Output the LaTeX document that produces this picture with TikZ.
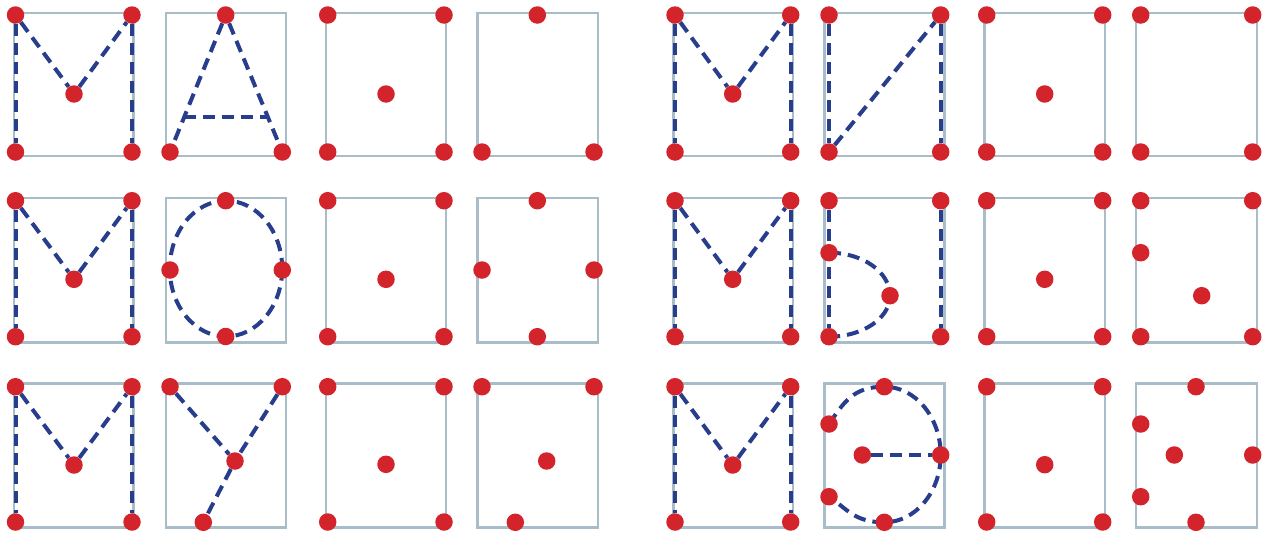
\documentclass[tikz,border=0pt]{standalone}
\usetikzlibrary{calc}
\pgfdeclarelayer{bg}
\pgfdeclarelayer{mid}
\pgfsetlayers{bg,mid,main}
\definecolor{boxc}{RGB}{168,189,199}
\definecolor{dotc}{RGB}{211,36,44}
\definecolor{linec}{RGB}{40,62,140}
\tikzset{
  dot/.style={circle, fill=dotc, draw=none, inner sep=0pt, minimum size=17.5pt},
  frame/.style={draw=boxc, line width=2.4pt},
  dline/.style={draw=linec, line width=4pt, dash pattern=on 12pt off 7pt},
}
% corners: name, xL, xR, yT, yB
\newcommand\mycorners[5]{%
  \node[dot] (#1tl) at (#2,#4) {};
  \node[dot] (#1tr) at (#3,#4) {};
  \node[dot] (#1bl) at (#2,#5) {};
  \node[dot] (#1br) at (#3,#5) {};
}
\begin{document}
\begin{tikzpicture}[x=1pt,y=-1pt]
\useasboundingbox (0,0) rectangle (1272,533);

% frames
\begin{pgfonlayer}{bg}
\foreach \l/\r in {14/133.5, 166/286, 326/446, 477.5/597.7, 673.3/792.7, 824.3/944.3, 984.3/1105, 1135.7/1256.7}
  \foreach \t/\b in {12.7/156, 197.7/342.3, 383.3/527.3}
    \draw[frame] (\l,\t) rectangle (\r,\b);
\end{pgfonlayer}

% ---------------- row 1 ----------------
\mycorners{a1}{15.5}{132}{15}{152}
\node[dot] (a1m) at (74,94) {};
\node[dot] (a2t) at (225.7,15) {};
\node[dot] (a2bl) at (170,152) {};
\node[dot] (a2br) at (282.3,152) {};
\mycorners{a3}{327.7}{444}{15}{152}
\node[dot] (a3m) at (386,94) {};
\node[dot] (a4t) at (537.3,15) {};
\node[dot] (a4bl) at (482,152) {};
\node[dot] (a4br) at (594,152) {};
\mycorners{a5}{675}{790.7}{15}{152}
\node[dot] (a5m) at (732.7,94) {};
\mycorners{a6}{829}{940.7}{15}{152}
\mycorners{a7}{986.7}{1102.7}{15}{152}
\node[dot] (a7m) at (1044.7,94) {};
\mycorners{a8}{1140.7}{1252.7}{15}{152}

% ---------------- row 2 ----------------
\mycorners{b1}{15.5}{132}{200.7}{336.7}
\node[dot] (b1m) at (74,279.3) {};
\node[dot] (b2t) at (225.7,200.7) {};
\node[dot] (b2l) at (170,270) {};
\node[dot] (b2r) at (282.3,270) {};
\node[dot] (b2b) at (225.7,336.5) {};
\coordinate (b2o) at (226,268.6);
\mycorners{b3}{327.7}{444}{200.7}{336.7}
\node[dot] (b3m) at (386,279.3) {};
\node[dot] (b4t) at (537.3,200.7) {};
\node[dot] (b4l) at (482,270) {};
\node[dot] (b4r) at (594,270) {};
\node[dot] (b4b) at (537.3,336.7) {};
\mycorners{b5}{675}{790.7}{200.7}{336.7}
\node[dot] (b5m) at (732.7,279.3) {};
\mycorners{b6}{829}{940.7}{200.7}{336.7}
\node[dot] (b6ml) at (829,252.7) {};
\node[dot] (b6m) at (890,295.7) {};
\mycorners{b7}{986.7}{1102.7}{200.7}{336.7}
\node[dot] (b7m) at (1044.7,279.3) {};
\mycorners{b8}{1140.7}{1252.7}{200.7}{336.7}
\node[dot] (b8ml) at (1140.7,252.7) {};
\node[dot] (b8m) at (1201.7,295.7) {};

% ---------------- row 3 ----------------
\mycorners{c1}{15.5}{132}{386.7}{522}
\node[dot] (c1m) at (74,465) {};
\node[dot] (c2tl) at (170,386.7) {};
\node[dot] (c2tr) at (282.3,386.7) {};
\node[dot] (c2m) at (235,461) {};
\node[dot] (c2b) at (203.3,522.3) {};
\mycorners{c3}{327.7}{444}{386.7}{522}
\node[dot] (c3m) at (386,464.3) {};
\node[dot] (c4tl) at (482,386.7) {};
\node[dot] (c4tr) at (594,386.7) {};
\node[dot] (c4m) at (546.7,461) {};
\node[dot] (c4b) at (515.3,522.3) {};
\mycorners{c5}{675}{790.7}{386.7}{522}
\node[dot] (c5m) at (732.7,465) {};
\node[dot] (c6t) at (884.3,386.7) {};
\node[dot] (c6ul) at (829,424) {};
\node[dot] (c6c) at (862.3,455) {};
\node[dot] (c6r) at (940.7,455) {};
\node[dot] (c6ll) at (829,496.7) {};
\node[dot] (c6b) at (884.3,522.3) {};
\mycorners{c7}{986.7}{1102.7}{386.7}{522}
\node[dot] (c7m) at (1044.7,464.7) {};
\node[dot] (c8t) at (1196,386.7) {};
\node[dot] (c8ul) at (1140.7,424) {};
\node[dot] (c8c) at (1174.3,455) {};
\node[dot] (c8r) at (1252.7,455) {};
\node[dot] (c8ll) at (1140.7,496.7) {};
\node[dot] (c8b) at (1196,522.3) {};

% ---------------- dashed strokes ----------------
\begin{pgfonlayer}{mid}
% M letters
\foreach \n in {a1,a5,b1,b5,c1,c5}{
  \draw[dline] (\n tl) -- (\n bl);
  \draw[dline] (\n tr) -- (\n br);
  \draw[dline] (\n tl) -- (\n m) -- (\n tr);
}
% A
\draw[dline] (a2t) -- (a2bl);
\draw[dline] (a2t) -- (a2br);
\draw[dline] ($(a2t)!0.742!(a2bl)$) -- ($(a2t)!0.742!(a2br)$);
% I (cyrillic)
\draw[dline] (a6tl) -- (a6bl);
\draw[dline] (a6bl) -- (a6tr);
\draw[dline] (a6tr) -- (a6br);
% O
\draw[dline] (b2o) ellipse [x radius=56.2, y radius=67.9];
% soft-sign + bar
\draw[dline] (b6tl) -- (b6bl);
\draw[dline] (b6tr) -- (b6br);
\draw[dline] (b6ml.center) .. controls +(33.7,0) and +(0,-23.7) .. (b6m.center)
                           .. controls +(0,22.6) and +(33.7,0) .. (b6bl.center);
% U (cyrillic)
\draw[dline] (c2tl) -- (c2m);
\draw[dline] (c2tr) -- (c2m) -- (c2b);
% E (reversed)
\draw[dline] (c6ul.center) .. controls +(15,-22) and +(-31,0) .. (c6t.center)
                           .. controls +(31,0) and +(0,-37.7) .. (c6r.center)
                           .. controls +(0,37.1) and +(31,0) .. (c6b.center)
                           .. controls +(-30,0) and +(18,12) .. (c6ll.center);
\draw[dline] (c6c) -- (c6r);
\end{pgfonlayer}
\end{tikzpicture}
\end{document}
